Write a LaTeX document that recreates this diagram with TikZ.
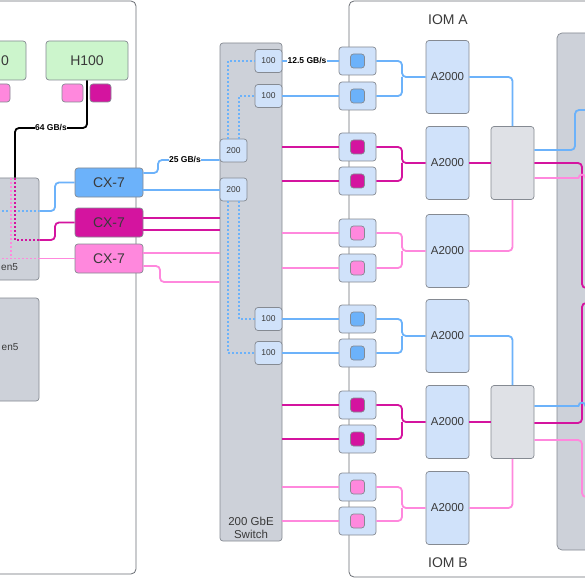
\documentclass[tikz,border=0pt]{standalone}
\usepackage{fontspec}
\setmainfont{Liberation Sans}
\definecolor{cblue}{HTML}{6CB2FA}
\definecolor{cmag}{HTML}{D4149F}
\definecolor{cpink}{HTML}{FF88DD}
\definecolor{cgreen}{HTML}{CCF5CC}
\definecolor{cgray}{HTML}{CDD1D9}
\definecolor{lgray}{HTML}{DFE1E6}
\definecolor{lblue}{HTML}{D0E2FA}
\definecolor{bord}{HTML}{858A92}
\definecolor{txt}{HTML}{3A3A3A}
\begin{document}
\begin{tikzpicture}[x=1pt,y=-1pt,
  conn/.style={line width=1.8pt, rounded corners=4pt},
  wire/.style={line width=1.8pt},
  dots/.style={line width=1.6pt, dash pattern=on 1.6pt off 2.4pt},
  bx/.style={draw=bord, line width=0.7pt, rounded corners=3pt, inner sep=0pt, text=txt},
  panel/.style={draw=bord!80!black, line width=0.8pt, rounded corners=5pt, fill=white, inner sep=0pt},
  lbl/.style={font=\bfseries\fontsize{8.5}{10}\selectfont, fill=white, inner sep=0.6pt, text=black},
  big/.style={font=\fontsize{14}{16}\selectfont},
  mid/.style={font=\fontsize{11.5}{13.5}\selectfont},
  sml/.style={font=\fontsize{8.5}{10}\selectfont},
  cx/.style={bx, big, minimum width=68pt, minimum height=29pt},
  port/.style={bx, sml, fill=lblue, minimum width=27pt, minimum height=23pt},
  nic/.style={bx, fill=lblue, minimum width=37pt, minimum height=28pt},
  chip/.style={bx, minimum size=14pt, rounded corners=3pt},
  acc/.style={bx, mid, fill=lblue, minimum width=43pt, minimum height=73pt},
  pex/.style={bx, fill=lgray, minimum width=43pt, minimum height=73pt},
  sq/.style={bx, minimum width=21pt, minimum height=18pt}]
\useasboundingbox (0,0) rectangle (585,585);
\clip (0,0) rectangle (585,585);

% panels
\node[panel, minimum width=146pt, minimum height=573pt] (srv) at (63,287.5) {};
\node[panel, minimum width=251pt, minimum height=576pt] (iom) at (474.5,289) {};
\node[bx, fill=cgray, rounded corners=5pt, minimum width=63pt, minimum height=517pt] (encl) at (588.5,291.5) {};
\node[big, text=txt] (ioma) at (448,20) {IOM A};
\node[big, text=txt] (iomb) at (448,563) {IOM B};

% GPUs
\node[bx, fill=cgreen, minimum width=82pt, minimum height=39pt] (h0) at (-15,60.5) {};
\node[big, text=txt, anchor=west, inner sep=0pt] (h0t) at (1,60.5) {0};
\node[bx, big, fill=cgreen, minimum width=82pt, minimum height=39pt] (h1) at (87,60.5) {H100};
\node[sq, fill=cpink] (h0p) at (-0.5,93) {};
\node[sq, fill=cpink] (h1p) at (72.5,93) {};
\node[sq, fill=cmag] (h1m) at (100.5,93) {};

% PCIe switches on server
\node[bx, fill=cgray, minimum width=69pt, minimum height=102pt] (g1) at (4.5,229) {};
\node[bx, fill=cgray, minimum width=69pt, minimum height=103pt] (g2) at (4.5,349.5) {};
\node[font=\fontsize{10}{12}\selectfont, text=txt, anchor=west, inner sep=0pt] (g1t) at (1,267) {en5};
\node[font=\fontsize{10}{12}\selectfont, text=txt, anchor=west, inner sep=0pt] (g2t) at (1.5,347) {en5};

% CX-7
\node[cx, fill=cblue] (cxb) at (109,182.5) {CX-7};
\node[cx, fill=cmag] (cxm) at (109,222.5) {CX-7};
\node[cx, fill=cpink] (cxp) at (109,258.5) {CX-7};

% switch
\node[bx, fill=cgray, minimum width=62pt, minimum height=498pt] (sw) at (251,292) {};
\node[mid, text=txt, align=center] (swt) at (251,528) {200 GbE\\Switch};
\node[port] (p1) at (268.5,61) {100};
\node[port] (p2) at (268.5,96) {100};
\node[port] (p3) at (233.5,150.5) {200};
\node[port] (p4) at (233.5,189.5) {200};
\node[port] (p5) at (268.5,319) {100};
\node[port] (p6) at (268.5,353) {100};

% NICs in IOM
\foreach \i/\y/\c in {1/61/cblue,2/96/cblue,3/147/cmag,4/181/cmag,5/233/cpink,6/268/cpink,
                      7/319/cblue,8/353/cblue,9/405/cmag,10/439/cmag,11/487/cpink,12/521/cpink}{
  \node[nic] (n\i) at (357.5,\y) {};
  \node[chip, fill=\c] (c\i) at (n\i) {};
}
% accelerators
\foreach \i/\y in {1/77,2/163,3/251,4/336,5/422,6/508}{
  \node[acc] (a\i) at (447.5,\y) {A2000};
}
\node[pex] (ga) at (512.5,163) {};
\node[pex] (gb) at (512.5,422) {};

% dotted internal links
\draw[dots, cblue] (-2,211) -- (g1.east |- 0,211);
\draw[dots, cpink] (-2,258.5) -- (g1.east |- 0,258.5);
\draw[dots, cpink] (11,178) -- (11,258.5);
\draw[dots, cmag] (15,178) -- (15,240) -- (g1.east |- 0,240);
\draw[dots, cblue] ([xshift=-5.5pt]p3.north) |- (p1.west);
\draw[dots, cblue] ([xshift=5.5pt]p3.north) |- (p2.west);
\draw[dots, cblue] ([xshift=-5.5pt]p4.south) |- (p6.west);
\draw[dots, cblue] ([xshift=5.5pt]p4.south) |- (p5.west);

% GPU link
\draw[conn, black] (h1.south) -- (87,128) -- (15,128) -- (g1.north -| 15,0);

% server switch -> CX-7
\draw[conn, cblue] (g1.east |- 0,211) -- (55,211) -- (55,182.5) -- (cxb.west);
\draw[conn, cmag] (g1.east |- 0,240) -- (55,240) -- (55,222.5) -- (cxm.west);
\draw[wire, cpink] (g1.east |- 0,258.5) -- (cxp.west);

% CX-7 -> switch
\draw[conn, cblue] (cxb.east |- 0,173) -- (158,173) -- (158,160) -- (p3.west |- 0,160);
\draw[wire, cblue] (cxb.east |- 0,190) -- (p4.west |- 0,190);
\draw[wire, cmag] (cxm.east |- 0,218) -- (sw.west |- 0,218);
\draw[wire, cmag] (cxm.east |- 0,230) -- (sw.west |- 0,230);
\draw[wire, cpink] (cxp.east |- 0,253) -- (sw.west |- 0,253);
\draw[conn, cpink] (cxp.east |- 0,266) -- (160,266) -- (160,282) -- (sw.west |- 0,282);

% switch -> NICs
\draw[wire, cblue] (p1.east) -- (n1.west);
\draw[wire, cblue] (p2.east) -- (n2.west);
\draw[wire, cblue] (p5.east) -- (n7.west);
\draw[wire, cblue] (p6.east) -- (n8.west);
\foreach \i/\c in {3/cmag,4/cmag,5/cpink,6/cpink,9/cmag,10/cmag,11/cpink,12/cpink}{
  \draw[wire, \c] (sw.east |- n\i.west) -- (n\i.west);
}

% NIC pairs -> accelerators
\foreach \t/\b/\a/\c in {n1/n2/a1/cblue,n3/n4/a2/cmag,n5/n6/a3/cpink,n7/n8/a4/cblue,n9/n10/a5/cmag,n11/n12/a6/cpink}{
  \draw[conn, \c] (\t.east) -| (402,0 |- \a.west) -- (\a.west);
  \draw[conn, \c] (\b.east) -| (402,0 |- \a.west);
}

% accelerators -> PCIe switches
\draw[conn, cblue] (a1.east) -| (ga.north);
\draw[wire, cmag] (a2.east) -- (ga.west);
\draw[conn, cpink] (a3.east) -| (ga.south);
\draw[conn, cblue] (a4.east) -| (gb.north);
\draw[wire, cmag] (a5.east) -- (gb.west);
\draw[conn, cpink] (a6.east) -| (gb.south);

% PCIe switches -> enclosure
\draw[conn, cblue] (ga.east |- 0,150) -- (575,150) -- (575,110) -- (600,110);
\draw[conn, cmag] (ga.east |- 0,163) -- (582,163) -- (582,288) -- (600,288);
\draw[conn, cmag] (gb.east |- 0,423) -- (582,423) -- (582,303) -- (600,303);
\draw[conn, cpink] (gb.east |- 0,440) -- (582,440) -- (582,497) -- (600,497);
\draw[wire, cpink] (ga.east |- 0,178) -- (578.5,178) .. controls (578.5,173.5) and (585.5,173.5) .. (585.5,178) -- (600,178);
\draw[wire, cblue] (gb.east |- 0,406) -- (578.5,406) .. controls (578.5,401.5) and (585.5,401.5) .. (585.5,406) -- (600,406);

% labels
\node[lbl] (l64) at (51,128) {64 GB/s};
\node[lbl] (l25) at (185,159.5) {25 GB/s};
\node[lbl] (l125) at (307,60.5) {12.5 GB/s};
\end{tikzpicture}
\end{document}
